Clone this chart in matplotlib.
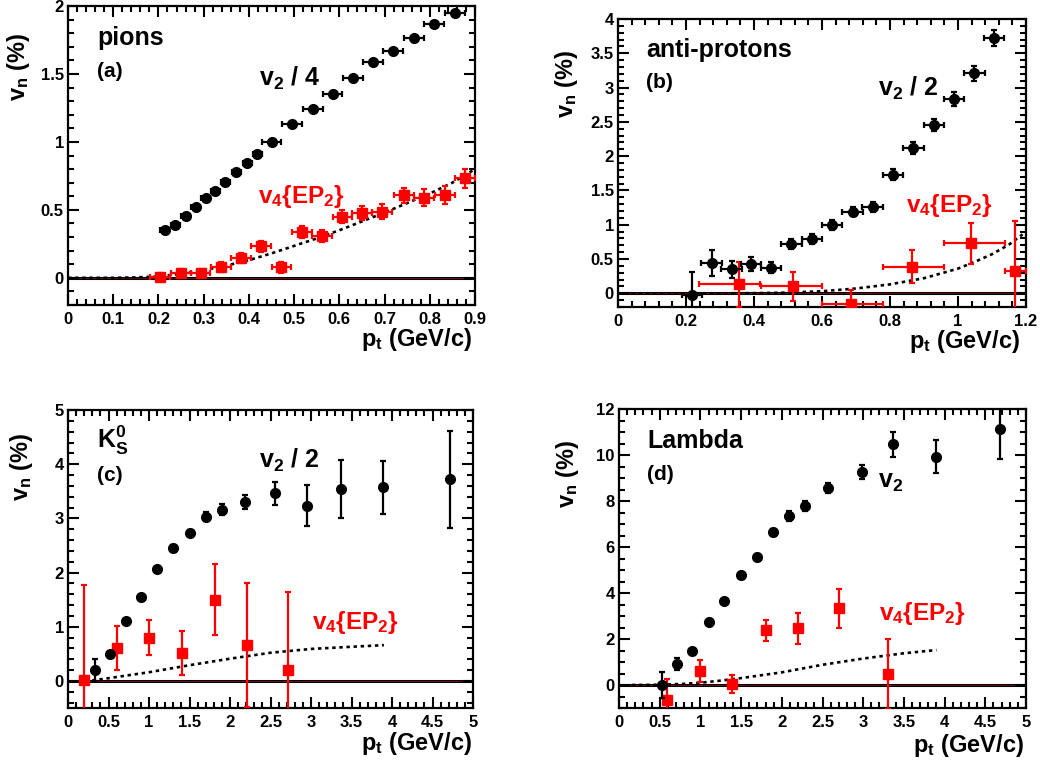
import numpy as np
import matplotlib
matplotlib.use('Agg')
import matplotlib.pyplot as plt
from matplotlib.ticker import MultipleLocator, FormatStrFormatter

plt.rcParams['font.family'] = ['Liberation Sans', 'DejaVu Sans']
plt.rcParams['font.weight'] = 'bold'
plt.rcParams['axes.labelweight'] = 'bold'
plt.rcParams['mathtext.fontset'] = 'custom'
plt.rcParams['mathtext.rm'] = 'Liberation Sans:bold'
plt.rcParams['mathtext.bf'] = 'Liberation Sans:bold'
plt.rcParams['mathtext.it'] = 'Liberation Sans:bold'
plt.rcParams['mathtext.default'] = 'bf'

RED = '#ff0000'

# ---- (a) pions ----
pi_v2_x = [0.214, 0.237, 0.26, 0.282, 0.305, 0.326, 0.348, 0.372, 0.396, 0.418,
           0.45, 0.496, 0.541, 0.585, 0.631, 0.675, 0.719, 0.765, 0.81, 0.855]
pi_v2_y = [0.351, 0.39, 0.452, 0.521, 0.585, 0.639, 0.705, 0.781, 0.848, 0.912,
           1.002, 1.133, 1.241, 1.356, 1.467, 1.585, 1.671, 1.762, 1.867, 1.948]
pi_v2_xe = [0.01] * 10 + [0.022] * 10
pi_v2_ye = [0.01] * 10 + [0.015] * 10
pi_v4_x = [0.203, 0.249, 0.293, 0.338, 0.382, 0.426, 0.472, 0.518, 0.562, 0.607,
           0.651, 0.695, 0.743, 0.788, 0.833, 0.878]
pi_v4_y = [0.007, 0.037, 0.037, 0.079, 0.145, 0.233, 0.079, 0.337, 0.307, 0.45,
           0.479, 0.486, 0.609, 0.59, 0.609, 0.732]
pi_v4_xe = [0.022] * 16
pi_v4_ye = [0.03, 0.03, 0.03, 0.035, 0.035, 0.04, 0.04, 0.045, 0.045, 0.05,
            0.05, 0.055, 0.055, 0.06, 0.065, 0.07]
pi_fit_x = [0, 0.1, 0.15, 0.2, 0.25, 0.3, 0.35, 0.4, 0.45, 0.5, 0.55, 0.6,
            0.65, 0.7, 0.75, 0.8, 0.85, 0.9]
pi_fit_y = [0, 0, 0.003, 0.01, 0.03, 0.055, 0.09, 0.13, 0.18, 0.235, 0.29,
            0.35, 0.415, 0.48, 0.55, 0.62, 0.7, 0.8]

# ---- (b) anti-protons ----
pb_v2_x = [0.218, 0.275, 0.334, 0.391, 0.45, 0.51, 0.57, 0.63, 0.69, 0.749,
           0.808, 0.869, 0.929, 0.988, 1.048, 1.105]
pb_v2_y = [-0.03, 0.446, 0.35, 0.43, 0.37, 0.72, 0.79, 1.0, 1.19, 1.26,
           1.73, 2.12, 2.45, 2.83, 3.21, 3.72]
pb_v2_xe = [0.03] * 16
pb_v2_ye = [0.34, 0.19, 0.12, 0.1, 0.08, 0.07, 0.07, 0.07, 0.07, 0.07,
            0.08, 0.09, 0.09, 0.1, 0.11, 0.12]
pb_v4_x = [0.356, 0.515, 0.684, 0.866, 1.037, 1.167]
pb_v4_y = [0.13, 0.1, -0.16, 0.39, 0.73, 0.32]
pb_v4_xlo = [0.117, 0.095, 0.085, 0.087, 0.077, 0.028]
pb_v4_xhi = [0.063, 0.085, 0.096, 0.094, 0.102, 0.033]
pb_v4_ye = [0.33, 0.21, 0.21, 0.24, 0.3, 0.73]
pb_fit_x = [0.04, 0.3, 0.4, 0.5, 0.6, 0.7, 0.8, 0.9, 1.0, 1.05, 1.1, 1.15, 1.19]
pb_fit_y = [0, 0, 0.002, 0.01, 0.03, 0.07, 0.13, 0.22, 0.36, 0.46, 0.57, 0.71, 0.86]

# ---- (c) K0s ----
k_v2_x = [0.337, 0.52, 0.71, 0.905, 1.1, 1.3, 1.51, 1.7, 1.9, 2.19, 2.56,
          2.95, 3.37, 3.89, 4.72]
k_v2_y = [0.197, 0.49, 1.1, 1.55, 2.06, 2.46, 2.73, 3.03, 3.16, 3.31, 3.46,
          3.23, 3.54, 3.57, 3.72]
k_v2_ye = [0.2, 0.05, 0.04, 0.04, 0.04, 0.05, 0.06, 0.08, 0.1, 0.13, 0.21,
           0.38, 0.54, 0.49, 0.89]
k_v4_x = [0.2, 0.6, 1.0, 1.41, 1.81, 2.21, 2.72]
k_v4_y = [0.025, 0.61, 0.8, 0.52, 1.5, 0.66, 0.2]
k_v4_ye = [1.75, 0.4, 0.33, 0.41, 0.66, 1.15, 1.45]
k_fit_x = [0.3, 0.5, 1.0, 1.5, 2.0, 2.5, 3.0, 3.5, 3.9]
k_fit_y = [0.01, 0.05, 0.16, 0.29, 0.41, 0.52, 0.59, 0.63, 0.66]

# ---- (d) Lambda ----
l_v2_x = [0.53, 0.71, 0.9, 1.1, 1.29, 1.5, 1.69, 1.89, 2.09, 2.29, 2.57,
          2.98, 3.36, 3.89, 4.68]
l_v2_y = [0.0, 0.91, 1.46, 2.76, 3.65, 4.8, 5.56, 6.64, 7.35, 7.8, 8.56,
          9.26, 10.47, 9.92, 11.12]
l_v2_ye = [0.55, 0.25, 0.1, 0.1, 0.1, 0.1, 0.12, 0.15, 0.2, 0.22, 0.22,
           0.3, 0.55, 0.72, 1.3]
l_v4_x = [0.59, 1.0, 1.39, 1.8, 2.2, 2.7, 3.3]
l_v4_y = [-0.64, 0.59, 0.04, 2.37, 2.46, 3.34, 0.48]
l_v4_ye = [0.9, 0.48, 0.4, 0.47, 0.67, 0.85, 1.53]
l_fit_x = [0.16, 0.5, 0.8, 1.0, 1.2, 1.5, 2.0, 2.5, 3.0, 3.5, 3.9]
l_fit_y = [0, 0.01, 0.05, 0.1, 0.17, 0.3, 0.55, 0.88, 1.15, 1.38, 1.52]

W, H = 1040, 762
fig = plt.figure(figsize=(W / 100, H / 100), dpi=100)


def make_ax(l, t, r, b):
    return fig.add_axes([l / W, 1 - b / H, (r - l) / W, (b - t) / H])


def style(ax, xlim, ylim, xmaj, xmin, ymaj, ymin):
    ax.set_xlim(xlim)
    ax.set_ylim(ylim)
    ax.xaxis.set_major_locator(MultipleLocator(xmaj))
    ax.xaxis.set_minor_locator(MultipleLocator(xmin))
    ax.yaxis.set_major_locator(MultipleLocator(ymaj))
    ax.yaxis.set_minor_locator(MultipleLocator(ymin))
    ax.xaxis.set_major_formatter(FormatStrFormatter('%g'))
    ax.yaxis.set_major_formatter(FormatStrFormatter('%g'))
    ax.tick_params(which='both', direction='in', top=True, right=True,
                   width=1.5, labelsize=12)
    ax.tick_params(which='major', length=8)
    ax.tick_params(which='minor', length=4)
    ax.tick_params(axis='x', pad=5)
    ax.tick_params(axis='y', pad=3)
    for lbl in ax.get_xticklabels() + ax.get_yticklabels():
        lbl.set_fontweight('bold')
    for s in ax.spines.values():
        s.set_linewidth(1.6)
    ax.axhline(0, color='black', lw=2.2, zorder=1)
    ax.axhline(0, color='#7a1010', lw=0.6, zorder=1)


def labels(ax, xlx, xly, ylx, yly):
    ax.set_xlabel(r'p$_t$ (GeV/c)', fontsize=17, fontweight='bold', loc='right')
    ax.xaxis.set_label_coords(xlx, xly)
    ax.set_ylabel(r'v$_n$ (%)', fontsize=17, fontweight='bold', loc='top')
    ax.yaxis.set_label_coords(ylx, yly)


def ftxt(x, y, s, size=17, color='black'):
    fig.text(x / W, 1 - y / H, s, fontsize=size, color=color,
             ha='left', va='baseline', fontweight='bold')


def draw_black(ax, x, y, xe, ye):
    ax.errorbar(x, y, xerr=xe, yerr=ye, fmt='o', color='black', ms=7,
                elinewidth=1.6, capsize=2, capthick=1.6, zorder=4)


def draw_red(ax, x, y, xe, ye):
    ax.errorbar(x, y, xerr=xe, yerr=ye, fmt='s', color=RED, ms=7,
                elinewidth=1.6, capsize=2, capthick=1.6, zorder=3)


def draw_fit(ax, x, y):
    ax.plot(x, y, color='black', lw=1.9, ls=(0, (1.3, 1.4)), zorder=2)


# (a)
ax = make_ax(68, 6, 475, 305)
style(ax, (0, 0.9), (-0.2, 2), 0.1, 0.02, 0.5, 0.1)
draw_fit(ax, pi_fit_x, pi_fit_y)
draw_red(ax, pi_v4_x, pi_v4_y, pi_v4_xe, pi_v4_ye)
draw_black(ax, pi_v2_x, pi_v2_y, pi_v2_xe, pi_v2_ye)
labels(ax, 0.993, -0.07, -0.088, 0.91)
ftxt(97, 45, 'pions', 18)
ftxt(97, 77, '(a)', 15)
ftxt(259, 86, r'v$_2$ / 4', 18)
ftxt(258, 203, r'v$_4${EP$_2$}', 17.5, RED)

# (b)
ax = make_ax(618, 19, 1026, 307)
style(ax, (0, 1.2), (-0.2, 4), 0.2, 0.04, 0.5, 0.1)
draw_fit(ax, pb_fit_x, pb_fit_y)
draw_red(ax, pb_v4_x, pb_v4_y, [pb_v4_xlo, pb_v4_xhi], pb_v4_ye)
draw_black(ax, pb_v2_x, pb_v2_y, pb_v2_xe, pb_v2_ye)
labels(ax, 0.985, -0.073, -0.093, 0.892)
ftxt(646, 57, 'anti-protons', 18)
ftxt(646, 88, '(b)', 15)
ftxt(878, 96, r'v$_2$ / 2', 18)
ftxt(906, 212, r'v$_4${EP$_2$}', 17.5, RED)

# (c)
ax = make_ax(68, 410, 473, 708)
style(ax, (0, 5), (-0.5, 5), 0.5, 0.1, 1, 0.2)
draw_fit(ax, k_fit_x, k_fit_y)
draw_red(ax, k_v4_x, k_v4_y, None, k_v4_ye)
draw_black(ax, k_v2_x, k_v2_y, None, k_v2_ye)
labels(ax, 0.998, -0.074, -0.081, 0.923)
ftxt(97, 448, r'K$_S^0$', 18)
ftxt(97, 481, '(c)', 15)
ftxt(259, 468, r'v$_2$ / 2', 18)
ftxt(312, 629, r'v$_4${EP$_2$}', 17.5, RED)

# (d)
ax = make_ax(619, 409, 1026, 708)
style(ax, (0, 5), (-1, 12), 0.5, 0.1, 2, 0.5)
draw_fit(ax, l_fit_x, l_fit_y)
draw_red(ax, l_v4_x, l_v4_y, None, l_v4_ye)
draw_black(ax, l_v2_x, l_v2_y, None, l_v2_ye)
labels(ax, 0.995, -0.08, -0.093, 0.896)
ftxt(647, 448, 'Lambda', 18)
ftxt(647, 480, '(d)', 15)
ftxt(878, 488, r'v$_2$', 18)
ftxt(879, 620, r'v$_4${EP$_2$}', 17.5, RED)

fig.savefig('out.png', dpi=100)
